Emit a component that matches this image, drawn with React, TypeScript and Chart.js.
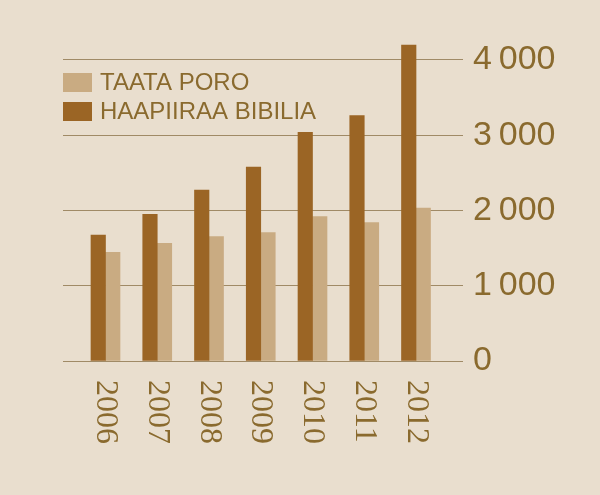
import React, { useEffect, useRef } from "react";
import { Chart, registerables } from "chart.js";

Chart.register(...registerables);

const years = [2006, 2007, 2008, 2009, 2010, 2011, 2012];
const haapiiraaBibilia = [1674, 1950, 2272, 2578, 3039, 3260, 4199];
const taataPoro = [1445, 1564, 1652, 1705, 1918, 1838, 2033];
const yTicks = [0, 1000, 2000, 3000, 4000];
const seriesNames = ["HAAPIIRAA BIBILIA", "TAATA PORO"];

const BG = "#e9dece";
const DARK = "#9b6525";
const LIGHT = "#c9ab82";
const TEXT = "#8a6a2e";
const GRID = "#a08a66";

const fmt = (v: number) => (v >= 1000 ? String(Math.floor(v / 1000)) + "\u2009" + String(v % 1000).padStart(3, "0") : String(v));

const overlayPlugin = {
  id: "overlay",
  afterDraw(chart: any) {
    const ctx = chart.ctx;
    const xs = chart.scales.x;
    const area = chart.chartArea;
    ctx.save();
    ctx.fillStyle = TEXT;
    ctx.font = "32px 'Liberation Serif'";
    ctx.textAlign = "left";
    ctx.textBaseline = "middle";
    years.forEach((yr) => {
      const px = xs.getPixelForValue(yr);
      ctx.save();
      ctx.translate(px, area.bottom + 19);
      ctx.rotate(Math.PI / 2);
      ctx.fillText(String(yr), 0, 0);
      ctx.restore();
    });
    const ds = chart.data.datasets;
    const order = [1, 0];
    ctx.font = "24px 'Liberation Sans'";
    order.forEach((di, i) => {
      const top = 73 + i * 29;
      ctx.fillStyle = ds[di].backgroundColor;
      ctx.fillRect(area.left, top, 29, 19);
      ctx.fillStyle = TEXT;
      ctx.fillText(ds[di].label, area.left + 37, top + 10);
    });
    ctx.restore();
  },
};

function App() {
  const ref = useRef<HTMLCanvasElement | null>(null);
  useEffect(() => {
    if (!ref.current) return;
    const chart = new Chart(ref.current, {
      type: "bar",
      data: {
        datasets: [
          {
            label: seriesNames[0],
            data: years.map((yr, i) => ({ x: yr, y: haapiiraaBibilia[i] })),
            backgroundColor: DARK,
            barThickness: 14.5,
          },
          {
            label: seriesNames[1],
            data: years.map((yr, i) => ({ x: yr, y: taataPoro[i] })),
            backgroundColor: LIGHT,
            barThickness: 14.5,
          },
        ],
      },
      options: {
        animation: false,
        responsive: false,
        maintainAspectRatio: false,
        layout: { padding: { left: 63, top: 37.4, bottom: 134, right: 0 } },
        plugins: { legend: { display: false }, tooltip: { enabled: false } },
        scales: {
          x: {
            type: "linear",
            display: false,
            offset: false,
            bounds: "data",
            min: 2005.179,
            max: 2012.908,
            grid: { display: false, offset: false },
          },
          y: {
            position: "right",
            min: 0,
            max: 4300,
            afterBuildTicks: (scale: any) => {
              scale.ticks = yTicks.map((v) => ({ value: v }));
            },
            afterFit: (scale: any) => {
              scale.width = 137;
            },
            border: { display: false },
            grid: { color: GRID, lineWidth: 1, drawTicks: false },
            ticks: {
              padding: 10,
              color: TEXT,
              font: { family: "'Liberation Sans'", size: 34 },
              callback: (v: any) => fmt(Number(v)),
            },
          },
        },
      },
      plugins: [overlayPlugin],
    });
    return () => chart.destroy();
  }, []);
  return (
    <div style={{ position: "fixed", left: 0, top: 0, width: 600, height: 495, background: BG }}>
      <canvas ref={ref} width={600} height={495} style={{ display: "block", width: 600, height: 495 }} />
    </div>
  );
}

export default App;
